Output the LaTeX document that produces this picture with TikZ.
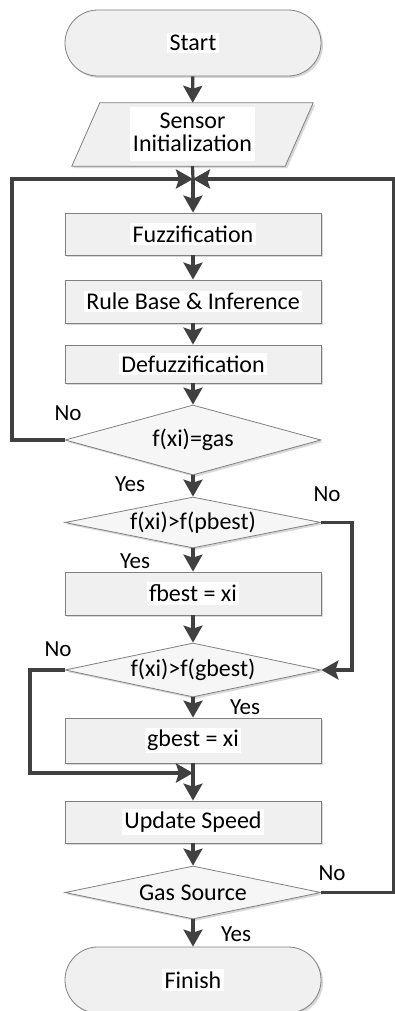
\documentclass[tikz,border=0pt]{standalone}
\usepackage{fontspec}
\setmainfont{Carlito}
\usetikzlibrary{arrows.meta,shapes.geometric,shadows,calc}
\definecolor{linegray}{RGB}{64,64,64}
\definecolor{bordergray}{RGB}{128,128,128}
\definecolor{boxfill}{RGB}{240,240,240}
\definecolor{decfill}{RGB}{246,246,246}
\newcommand\tb[1]{{\setlength{\fboxsep}{2.5pt}\colorbox{white}{#1}}}
\tikzset{
  base/.style={draw=bordergray, line width=0.8pt, fill=boxfill, inner sep=0pt,
    font=\fontsize{24}{26}\selectfont,
    drop shadow={shadow xshift=2pt, shadow yshift=-2pt, fill=black!30, opacity=0.5}},
  procbox/.style={base, rectangle, minimum width=256pt},
  termbox/.style={base, rectangle, rounded corners=32.9pt, minimum width=256pt, minimum height=66pt},
  decbox/.style={base, diamond, fill=decfill, minimum width=256pt,
    label={[font=\fontsize{24}{26}\selectfont, inner sep=0pt]center:#1}},
  arr/.style={draw=linegray, line width=3.2pt, -{Stealth[width=19pt,length=17pt,inset=3pt]}},
  ln/.style={draw=linegray, line width=3.2pt},
  lbl/.style={font=\fontsize{23}{25}\selectfont, inner sep=0pt}
}
\begin{document}
\begin{tikzpicture}[x=1pt, y=-1pt]
\useasboundingbox (0,0) rectangle (395,1011);
\fill[white] (0,0) rectangle (395,1011);

\node[termbox] (start) at (193,43) {\tb{Start}};

% parallelogram
\node[minimum width=241pt, minimum height=63pt, inner sep=0pt] (sensor) at (192.5,134.5) {};
\filldraw[draw=bordergray, line width=0.8pt, fill=boxfill,
    drop shadow={shadow xshift=2pt, shadow yshift=-2pt, fill=black!30, opacity=0.5}]
  ($(sensor.north west)+(28,0)$) -- (sensor.north east) -- ($(sensor.south east)+(-28,0)$) -- (sensor.south west) -- cycle;
\node[font=\fontsize{24}{26}\selectfont, inner sep=0pt] (sensortext) at (sensor.center)
  {\tb{\begin{tabular}{@{}c@{}}Sensor\\[-3pt]Initialization\end{tabular}}};

\coordinate (J) at (193,179);

\node[procbox, minimum height=42pt] (fuzz) at (193,234) {\tb{Fuzzification}};
\node[procbox, minimum height=43pt] (rule) at (193,301.5) {\tb{Rule Base \& Inference}};
\node[procbox, minimum height=38pt] (defuzz) at (193,364) {\tb{Defuzzification}};
\node[decbox={f(xi)=gas}, minimum height=70pt] (gas) at (193,440) {};
\node[decbox={f(xi)>f(pbest)}, minimum height=51pt] (pbest) at (193,522.5) {};
\node[procbox, minimum height=43pt] (fbest) at (193,593.5) {\tb{fbest = xi}};
\node[decbox={f(xi)>f(gbest)}, minimum height=54pt] (gbest) at (193,670) {};
\node[procbox, minimum height=45pt] (gbox) at (193,740.5) {\tb{gbest = xi}};
\coordinate (J2) at (193,773);
\node[procbox, minimum height=42pt] (update) at (193,822) {\tb{Update Speed}};
\node[decbox={Gas Source}, minimum height=53pt] (source) at (193,892.5) {};
\node[termbox] (finish) at (193,980) {\tb{Finish}};

% main flow
\draw[arr] (start) -- (sensor);
\draw[ln] (sensor.south) -- (J);
\draw[arr] (J) -- (fuzz);
\draw[arr] (fuzz) -- (rule);
\draw[arr] (rule) -- (defuzz);
\draw[arr] (defuzz) -- (gas);
\draw[arr] (gas) -- (pbest);
\draw[arr] (pbest) -- (fbest);
\draw[arr] (fbest) -- (gbest);
\draw[arr] (gbest) -- (gbox);
\draw[ln] (gbox.south) -- (J2);
\draw[arr] (J2) -- (update);
\draw[arr] (update) -- (source);
\draw[arr] (source) -- (finish);

% loops
\draw[arr] (gas.west) -- (12,440) |- (J);
\draw[arr] (source.east) -- (393.4,892.5) |- (J);
\draw[arr] (pbest.east) -- (352,522.5) |- (gbest.east);
\draw[arr] (gbest.west) -- (30,670) |- (J2);

% labels
\node[lbl] (l1) at (68,413) {No};
\node[lbl] (l2) at (130,484) {Yes};
\node[lbl] (l3) at (327,494) {No};
\node[lbl] (l4) at (135,561) {Yes};
\node[lbl] (l5) at (58,649) {No};
\node[lbl] (l6) at (245,707) {Yes};
\node[lbl] (l7) at (332,873) {No};
\node[lbl] (l8) at (236,934) {Yes};
\end{tikzpicture}
\end{document}
